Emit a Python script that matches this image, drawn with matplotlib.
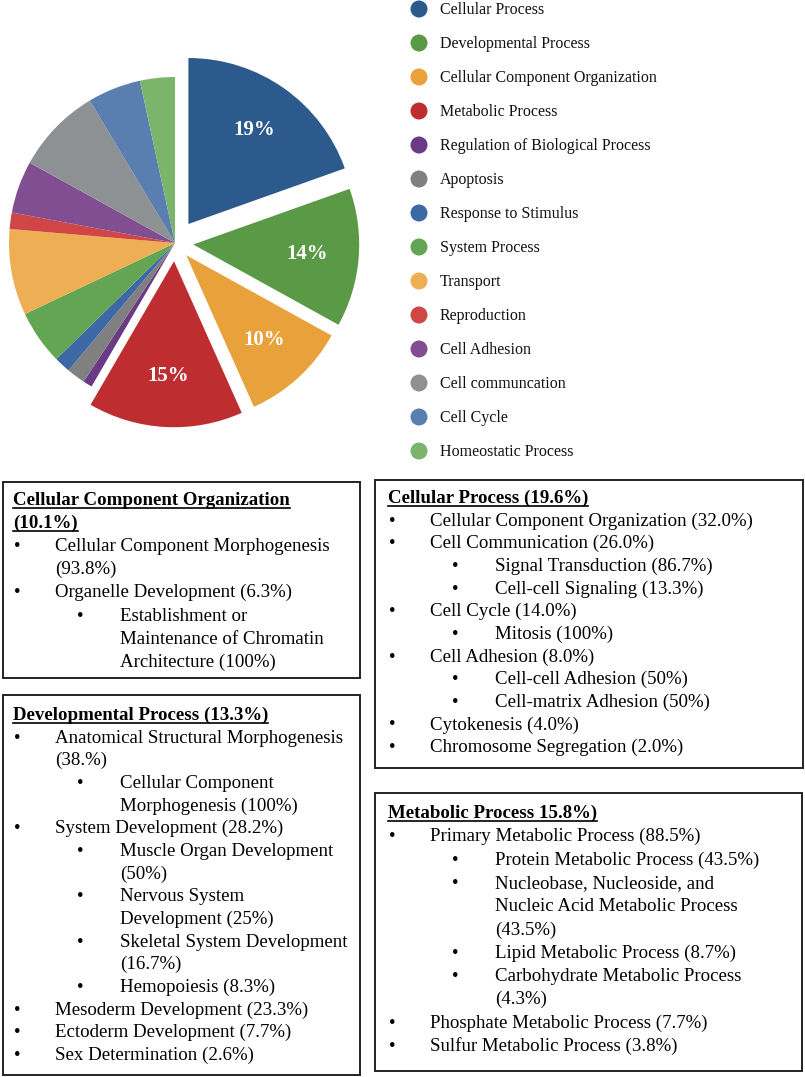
import matplotlib.pyplot as plt
from matplotlib.patches import Rectangle

plt.rcParams['font.family'] = ['Liberation Serif', 'DejaVu Serif']

# DATA
categories = ['Cellular Process', 'Developmental Process', 'Cellular Component Organization',
              'Metabolic Process', 'Regulation of Biological Process', 'Apoptosis',
              'Response to Stimulus', 'System Process', 'Transport', 'Reproduction',
              'Cell Adhesion', 'Cell communcation', 'Cell Cycle', 'Homeostatic Process']
shares = [19.6, 13.5, 10.3, 15.1, 0.9, 1.8, 1.6, 5.3, 8.4, 1.6, 5.1, 8.4, 5.2, 3.4]
pct_labels = ['19%', '14%', '10%', '15%', '', '', '', '', '', '', '', '', '', '']
colors = ['#2D5A8C', '#5A9A47', '#E9A23B', '#BE2E31', '#6B3A86', '#808080', '#3C69A6',
          '#63A553', '#EEAE54', '#D04545', '#824E92', '#8E9194', '#5B7EB1', '#7DB46C']
explode = [0.14, 0.11, 0.10, 0.11, 0, 0, 0, 0, 0, 0, 0, 0, 0, 0]

box_cco_title = ['Cellular Component Organization', '(10.1%)']
box_cco_items = [(1, 'Cellular Component Morphogenesis\n(93.8%)'),
                 (1, 'Organelle Development (6.3%)'),
                 (2, 'Establishment or\nMaintenance of Chromatin\nArchitecture (100%)')]

box_cp_title = ['Cellular Process (19.6%)']
box_cp_items = [(1, 'Cellular Component Organization (32.0%)'),
                (1, 'Cell Communication (26.0%)'),
                (2, 'Signal Transduction (86.7%)'),
                (2, 'Cell-cell Signaling (13.3%)'),
                (1, 'Cell Cycle (14.0%)'),
                (2, 'Mitosis (100%)'),
                (1, 'Cell Adhesion (8.0%)'),
                (2, 'Cell-cell Adhesion (50%)'),
                (2, 'Cell-matrix Adhesion (50%)'),
                (1, 'Cytokenesis (4.0%)'),
                (1, 'Chromosome Segregation (2.0%)')]

box_dp_title = ['Developmental Process (13.3%)']
box_dp_items = [(1, 'Anatomical Structural Morphogenesis\n(38.%)'),
                (2, 'Cellular Component\nMorphogenesis (100%)'),
                (1, 'System Development (28.2%)'),
                (2, 'Muscle Organ Development\n(50%)'),
                (2, 'Nervous System\nDevelopment (25%)'),
                (2, 'Skeletal System Development\n(16.7%)'),
                (2, 'Hemopoiesis (8.3%)'),
                (1, 'Mesoderm Development (23.3%)'),
                (1, 'Ectoderm Development (7.7%)'),
                (1, 'Sex Determination (2.6%)')]

box_mp_title = ['Metabolic Process 15.8%)']
box_mp_items = [(1, 'Primary Metabolic Process (88.5%)'),
                (2, 'Protein Metabolic Process (43.5%)'),
                (2, 'Nucleobase, Nucleoside, and\nNucleic Acid Metabolic Process\n(43.5%)'),
                (2, 'Lipid Metabolic Process (8.7%)'),
                (2, 'Carbohydrate Metabolic Process\n(4.3%)'),
                (1, 'Phosphate Metabolic Process (7.7%)'),
                (1, 'Sulfur Metabolic Process (3.8%)')]

W, H = 805, 1077
fig = plt.figure(figsize=(W / 100, H / 100), dpi=100)

# pie
cx, cy, r = 175, 243, 166
half = 1.2 * r
ax_pie = fig.add_axes([(cx - half) / W, (H - cy - half) / H, 2 * half / W, 2 * half / H])
lab_iter = iter(pct_labels)
ax_pie.pie(shares, colors=colors, explode=explode, startangle=90, counterclock=False,
           autopct=lambda p: next(lab_iter), pctdistance=0.69,
           textprops=dict(color='white', fontsize=15, fontweight='bold'),
           wedgeprops=dict(linewidth=0))
ax_pie.set_xlim(-1.2, 1.2)
ax_pie.set_ylim(-1.2, 1.2)
ax_pie.axis('off')

# overlay in pixel coords
ax = fig.add_axes([0, 0, 1, 1])
ax.set_xlim(0, W)
ax.set_ylim(H, 0)
ax.axis('off')

# legend
for i, (name, c) in enumerate(zip(categories, colors)):
    y = 9 + 34 * i
    ax.scatter(419, y, s=150, color=c, edgecolors='none')
    ax.text(440, y + 1, name, fontsize=11.5, va='center', ha='left', color='#111111')

fs = 13.6
titles_to_underline = []


def draw_box(x0, y0, x1, y1, title, items, tx, ty, step):
    ax.add_patch(Rectangle((x0, y0), x1 - x0, y1 - y0, fill=False, lw=1.4, ec='#222222'))
    y = ty
    for line in title:
        t = ax.text(tx, y, line, fontsize=fs, fontweight='bold', va='baseline', ha='left')
        titles_to_underline.append((t, y))
        y += step
    for level, text in items:
        bx = tx + 1 if level == 1 else tx + 64
        px = tx + 42 if level == 1 else tx + 107
        for j, part in enumerate(text.split('\n')):
            if j == 0:
                ax.text(bx, y, '\u2022', fontsize=fs, va='baseline', ha='left')
            ax.text(px, y, part, fontsize=fs, va='baseline', ha='left')
            y += step


draw_box(3, 482, 360, 678, box_cco_title, box_cco_items, 13, 505, 23.1)
draw_box(375, 480, 803, 768, box_cp_title, box_cp_items, 388, 503, 22.65)
draw_box(3, 695, 360, 1075, box_dp_title, box_dp_items, 13, 720, 22.67)
draw_box(375, 793, 802, 1071, box_mp_title, box_mp_items, 388, 818, 23.3)

fig.canvas.draw()
renderer = fig.canvas.get_renderer()
inv = ax.transData.inverted()
for t, y in titles_to_underline:
    bb = t.get_window_extent(renderer)
    (xa, _), (xb, _) = inv.transform([(bb.x0, bb.y0), (bb.x1, bb.y0)])
    ax.plot([xa, xb], [y + 3, y + 3], color='black', lw=1.2)

fig.savefig('out.png', dpi=100)
